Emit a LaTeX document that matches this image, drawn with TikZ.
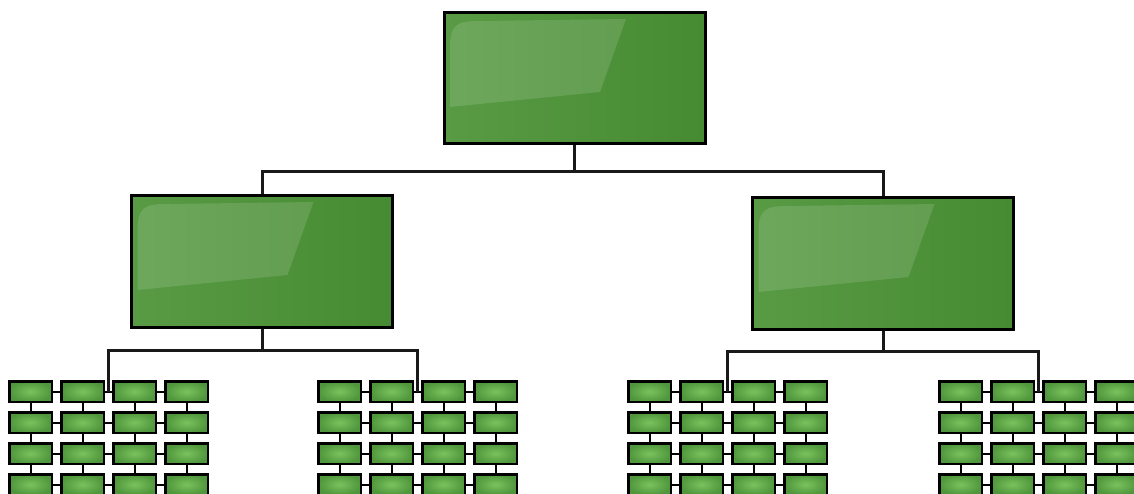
\documentclass[tikz,border=0pt]{standalone}
\usepackage{tikz}
\usetikzlibrary{calc}
\definecolor{leafgreen}{RGB}{88,155,68}
\definecolor{deepgreen}{RGB}{70,138,50}
\definecolor{brickcore}{RGB}{122,194,94}
\definecolor{brickedge}{RGB}{80,150,60}

\begin{document}
\begin{tikzpicture}[x=1pt, y=-1pt,
  panel/.style={draw=black, line width=3pt, left color=leafgreen, right color=deepgreen,
    minimum width=261pt, minimum height=131pt, inner sep=0pt,
    path picture={\fill[white,opacity=.13]
      ([shift={(6,94)}]path picture bounding box.north west)
      -- ([shift={(6,35)}]path picture bounding box.north west)
      .. controls ([shift={(6,12)}]path picture bounding box.north west)
      and ([shift={(12,8)}]path picture bounding box.north west)
      .. ([shift={(35,8)}]path picture bounding box.north west)
      -- ([shift={(182,6)}]path picture bounding box.north west)
      -- ([shift={(156,79)}]path picture bounding box.north west) -- cycle;}},
  brick/.style={draw=black, line width=2.5pt, inner color=brickcore, outer color=brickedge,
    minimum width=42.5pt, minimum height=20.5pt, inner sep=0pt},
  wire/.style={draw=black!90, line width=3pt},
  link/.style={draw=black, line width=2pt}]
  \useasboundingbox (0,0) rectangle (1134,494);

  \node[panel] (root) at (574.5,78.5) {};
  \node[panel] (midL) at (262,261.5) {};
  \node[panel] (midR) at (883,263.5) {};

  % brick walls
  \foreach \g/\gx in {1/8,2/317,3/627,4/938}{
    \foreach \row in {1,2,3,4}
      \foreach \col in {1,2,3,4}
        \node[brick] (g\g-\row-\col) at ({\gx+22.5+(\col-1)*52},{391.5+(\row-1)*31}) {};
    \foreach \row in {1,2,3,4}
      \foreach \col/\nxt in {1/2,2/3,3/4}
        \draw[link] (g\g-\row-\col.east) -- (g\g-\row-\nxt.west);
    \foreach \row/\nxt in {1/2,2/3,3/4}
      \foreach \col in {1,2,3,4}
        \draw[link] (g\g-\row-\col.south) -- (g\g-\nxt-\col.north);
    \coordinate (d\g) at ($(g\g-1-2.east)!.5!(g\g-1-3.west)$);
  }

  \draw[wire] (root.south) -- ++(0,26) -| (midL.north);
  \draw[wire] (root.south) -- ++(0,26) -| (midR.north);
  \draw[wire] (midL.south) -- ++(0,22) -| (d1);
  \draw[wire] (midL.south) -- ++(0,22) -| (d2);
  \draw[wire] (midR.south) -- ++(0,21) -| (d3);
  \draw[wire] (midR.south) -- ++(0,21) -| (d4);
\end{tikzpicture}
\end{document}
